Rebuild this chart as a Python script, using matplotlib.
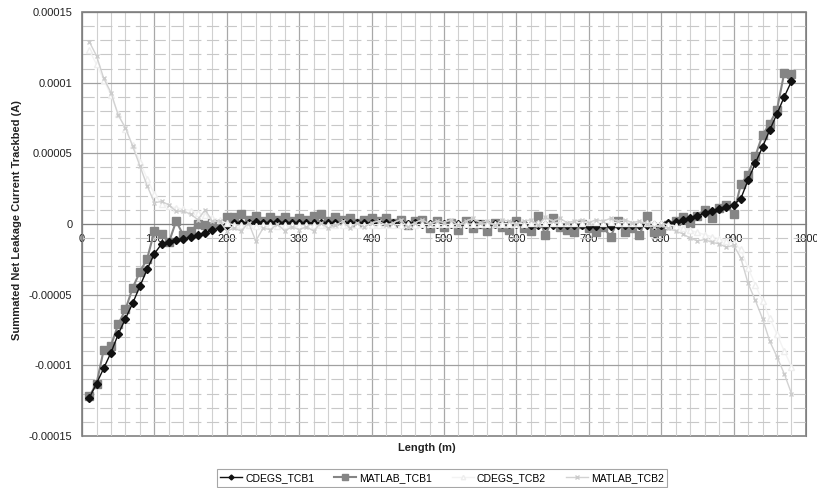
import numpy as np
import matplotlib
matplotlib.use('Agg')
import matplotlib.pyplot as plt
from matplotlib.ticker import MultipleLocator, FixedLocator

plt.rcParams['font.family'] = ['Liberation Sans', 'DejaVu Sans']

# length along the track (m)
length = np.arange(10, 990, 10)

# leakage currents in units of 1e-5 A
cdegs_tcb1 = [-12.3, -11.3, -10.2, -9.1, -7.8, -6.7, -5.6, -4.4, -3.2, -2.1,
              -1.4, -1.25, -1.15, -1.05, -0.95, -0.8, -0.65, -0.45, -0.25, -0.05,
              0.05, 0.1, 0.1, 0.12, 0.1, 0.1, 0.12, 0.1, 0.1, 0.1,
              0.08, 0.08, 0.1, 0.08, 0.06, 0.08, 0.06, 0.05, 0.06, 0.05,
              0.05, 0.04, 0.05, 0.04, 0.03, 0.04, 0.03, 0.02, 0.03, 0.02,
              0.02, 0.01, 0.0, 0.01, 0.0, -0.01, 0.0, -0.02, -0.02, -0.03,
              -0.03, -0.04, -0.05, -0.05, -0.06, -0.08, -0.1, -0.1, -0.1, -0.12,
              -0.12, -0.1, -0.12, -0.1, -0.1, -0.08, -0.1, -0.08, -0.06, -0.05,
              0.05, 0.15, 0.3, 0.45, 0.6, 0.75, 0.9, 1.05, 1.2, 1.36,
              1.8, 3.1, 4.3, 5.45, 6.65, 7.8, 9.0, 10.1]

matlab_tcb1 = [-12.2, -11.3, -8.9, -8.6, -7.1, -6.05, -4.5, -3.4, -2.45, -0.5,
               -0.7, -1.3, 0.2, -0.8, -0.5, 0.0, -0.1, 0.1, 0.0, 0.5,
               0.5, 0.7, 0.3, 0.6, 0.2, 0.5, 0.3, 0.5, 0.2, 0.4,
               0.3, 0.6, 0.7, 0.2, 0.5, 0.3, 0.4, 0.1, 0.3, 0.4,
               0.2, 0.4, 0.1, 0.3, -0.1, 0.2, 0.3, -0.3, 0.2, -0.2,
               0.1, -0.4, 0.2, -0.3, 0.0, -0.5, 0.1, -0.2, -0.4, 0.2,
               -0.3, -0.5, 0.6, -0.8, 0.4, -0.2, -0.4, -0.6, 0.0, -0.3,
               -0.6, -0.2, -0.9, 0.2, -0.6, -0.3, -0.8, 0.6, -0.6, -0.5,
               -0.1, 0.2, 0.5, 0.04, 0.6, 1.0, 0.4, 1.1, 1.35, 0.7,
               2.8, 3.5, 4.8, 6.3, 7.1, 8.1, 10.7, 10.6]

cdegs_tcb2 = [12.3, 11.3, 10.2, 9.1, 7.8, 6.7, 5.6, 4.4, 3.2, 2.1,
              1.4, 1.25, 1.15, 1.05, 0.95, 0.8, 0.65, 0.45, 0.25, 0.05,
              -0.05, -0.1, -0.1, -0.12, -0.1, -0.1, -0.12, -0.1, -0.1, -0.1,
              -0.08, -0.08, -0.1, -0.08, -0.06, -0.08, -0.06, -0.05, -0.06, -0.05,
              -0.05, -0.04, -0.05, -0.04, -0.03, -0.04, -0.03, -0.02, -0.03, -0.02,
              -0.02, -0.01, 0.0, -0.01, 0.0, 0.01, 0.0, 0.02, 0.02, 0.03,
              0.03, 0.04, 0.05, 0.05, 0.06, 0.08, 0.1, 0.1, 0.1, 0.12,
              0.12, 0.1, 0.12, 0.1, 0.1, 0.08, 0.1, 0.08, 0.06, 0.05,
              -0.05, -0.15, -0.3, -0.45, -0.6, -0.75, -0.9, -1.05, -1.2, -1.36,
              -1.8, -3.1, -4.3, -5.45, -6.65, -7.8, -9.0, -10.1]

matlab_tcb2 = [12.9, 11.9, 10.3, 9.3, 7.7, 6.8, 5.5, 4.1, 2.7, 1.5,
               1.6, 1.35, 0.9, 0.9, 0.7, 0.3, 1.0, 0.2, 0.2, -0.5,
               -0.3, -0.5, 0.1, -1.2, -0.3, -0.4, 0.0, -0.5, -0.2, -0.4,
               -0.2, -0.5, 0.1, -0.3, -0.1, 0.2, -0.3, 0.1, -0.2, 0.1,
               0.2, -0.1, 0.1, 0.3, -0.2, 0.1, 0.3, 0.0, 0.2, 0.1,
               0.3, -0.1, 0.2, 0.4, 0.1, 0.2, -0.1, 0.3, 0.2, 0.0,
               0.2, 0.3, -0.1, 0.5, 0.2, 0.4, 0.1, 0.2, 0.3, 0.1,
               0.3, 0.2, 0.4, 0.2, 0.3, 0.1, 0.2, 0.0, -0.2, -0.1,
               -0.3, -0.5, -0.7, -1.0, -1.2, -1.1, -1.3, -1.4, -1.65, -1.5,
               -2.4, -4.2, -5.4, -6.7, -8.3, -9.4, -10.6, -12.0]

ytick_vals = [0.00015, 0.0001, 0.00005, 0, -0.00005, -0.0001, -0.00015]
ytick_labels = ['0.00015', '0.0001', '0.00005', '0', '-0.00005', '-0.0001', '-0.00015']
xtick_vals = [0, 100, 200, 300, 400, 500, 600, 700, 800, 900, 1000]

fig = plt.figure(figsize=(8.17, 4.88), dpi=100)
ax = fig.add_axes([0.1004, 0.1066, 0.8861, 0.8688])

scale = 1e-5
ax.plot(length, np.array(cdegs_tcb1) * scale, color='#111111', lw=1.0,
        marker='D', ms=3.6, mfc='#111111', mec='#111111', label='CDEGS_TCB1', zorder=4)
ax.plot(length, np.array(matlab_tcb1) * scale, color='#858585', lw=1.5,
        marker='s', ms=5.5, mfc='#858585', mec='#858585', label='MATLAB_TCB1', zorder=3)
ax.plot(length, np.array(cdegs_tcb2) * scale, color='#f3f3f3', lw=1.0,
        marker='^', ms=4.5, mfc='white', mec='#eeeeee', label='CDEGS_TCB2', zorder=5)
ax.plot(length, np.array(matlab_tcb2) * scale, color='#d2d2d2', lw=1.0,
        marker='x', ms=3.5, mec='#cccccc', label='MATLAB_TCB2', zorder=6)

ax.set_xlim(0, 1000)
ax.set_ylim(-0.00015, 0.00015)

# excel style grid
ax.xaxis.set_major_locator(FixedLocator(xtick_vals))
ax.xaxis.set_minor_locator(MultipleLocator(20))
ax.yaxis.set_major_locator(FixedLocator(ytick_vals))
ax.yaxis.set_minor_locator(MultipleLocator(0.00001))
ax.set_yticklabels(ytick_labels)
ax.grid(which='major', axis='x', color='#a8a8a8', lw=0.9)
ax.grid(which='minor', axis='x', color='#d0d0d0', lw=0.8)
ax.grid(which='major', axis='y', color='#a0a0a0', lw=0.9)
ax.grid(which='minor', axis='y', color='#c8c8c8', lw=0.8, ls=(0, (11, 5)))
ax.set_axisbelow(True)

# horizontal axis crosses at zero
ax.spines['bottom'].set_position(('data', 0))
for s in ['bottom', 'top', 'left', 'right']:
    ax.spines[s].set_color('#808080')
ax.patch.set_edgecolor('#808080')
ax.patch.set_linewidth(1.2)
ax.tick_params(which='both', length=0)
ax.tick_params(axis='y', labelsize=8, pad=7, colors='#222222')
ax.tick_params(axis='x', labelsize=8, pad=7, colors='#222222')

fig.text(427 / 817, 0.082, 'Length (m)', ha='center', va='center',
         fontsize=8, fontweight='bold', color='#222222')
fig.text(17 / 817, 0.549, 'Summated Net Leakage Current Trackbed (A)', ha='center', va='center',
         rotation=90, fontsize=8, fontweight='bold', color='#222222')

leg = fig.legend(loc='center', bbox_to_anchor=(442 / 817, 10 / 488), ncol=4,
                 fontsize=7.5, frameon=True, fancybox=False, edgecolor='#909090',
                 handlelength=2.1, columnspacing=1.9, borderpad=0.35, handletextpad=0.3,
                 markerscale=0.7)
leg.get_frame().set_linewidth(0.8)

plt.savefig('out.png', dpi=100)
